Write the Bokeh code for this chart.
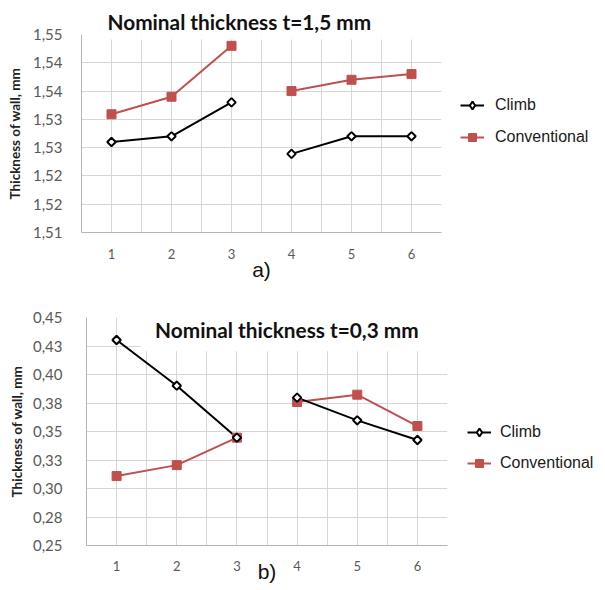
import numpy as np
from bokeh.plotting import figure
from bokeh.models import (Range1d, FixedTicker, Legend, LegendItem, Label, Spacer)
from bokeh.layouts import column, row
from bokeh.embed import file_html
from bokeh.resources import INLINE

# ---------------- data ----------------
steps = [1, 2, 3, 4, 5, 6]
segments = [(0, 3), (3, 6)]

climb_a = [1.5310, 1.5320, 1.5380, 1.5289, 1.5320, 1.5320]
conv_a = [1.5359, 1.5390, 1.5480, 1.5400, 1.5420, 1.5430]
yticks_a = [1.515, 1.520, 1.525, 1.530, 1.535, 1.540, 1.545, 1.550]
ylabels_a = ["1,51", "1,52", "1,52", "1,53", "1,53", "1,54", "1,54", "1,55"]

climb_b = [0.4303, 0.3902, 0.3446, 0.3797, 0.3598, 0.3425]
conv_b = [0.3109, 0.3205, 0.3446, 0.3759, 0.3823, 0.3548]
yticks_b = [0.250, 0.275, 0.300, 0.325, 0.350, 0.375, 0.400, 0.425, 0.450]
ylabels_b = ["0,25", "0,28", "0,30", "0,33", "0,35", "0,38", "0,40", "0,43", "0,45"]

series_names = ["Climb", "Conventional"]
titles = ["Nominal thickness t=1,5 mm", "Nominal thickness t=0,3 mm"]
sublabels = ["a)", "b)"]

RED = "#C0504D"
GRID = "#d6d6d6"
AXIS = "#b5b5b5"
TICKC = "#595959"
FONT = "Lato"


def style_climb(p, xs, ys):
    return p.scatter(xs, ys, marker="square", angle=np.pi / 4, size=6,
                     fill_color="white", line_color="black", line_width=2)


def style_conv(p, xs, ys):
    return p.scatter(xs, ys, marker="square", size=9, fill_color=RED,
                     line_color=RED, line_width=1)


def make_chart(climb, conv, yticks, ylabels, yr, frame_w, frame_h, borders,
               sub, x_tick_standoff, sub_standoff, y_tick_standoff,
               y_tick_size, ylab_standoff, boxes):
    bl, br, bt, bb = borders
    p = figure(frame_width=frame_w, frame_height=frame_h,
               min_border_left=bl, min_border_right=br,
               min_border_top=bt, min_border_bottom=bb,
               x_range=Range1d(0.5, 6.5), y_range=Range1d(*yr),
               output_backend="svg", toolbar_location=None)
    p.outline_line_color = None
    p.background_fill_color = "white"
    p.border_fill_color = "white"

    p.xgrid.ticker = FixedTicker(ticks=list(np.arange(0.5, 6.51, 0.5)))
    p.ygrid.ticker = FixedTicker(ticks=yticks)
    p.xgrid.grid_line_color = GRID
    p.ygrid.grid_line_color = GRID

    p.xaxis.ticker = FixedTicker(ticks=steps)
    p.yaxis.ticker = FixedTicker(ticks=yticks)
    p.yaxis.major_label_overrides = dict(zip(yticks, ylabels))
    for ax in (p.xaxis[0], p.yaxis[0]):
        ax.axis_line_color = AXIS
        ax.major_tick_line_color = None
        ax.minor_tick_line_color = None
        ax.major_label_text_color = TICKC
        ax.major_label_text_font = FONT
    p.xaxis.major_label_text_font_size = "13px"
    p.xaxis.major_label_standoff = x_tick_standoff
    p.xaxis.axis_label = sub
    p.xaxis.axis_label_text_font = "Liberation Sans"
    p.xaxis.axis_label_text_font_style = "normal"
    p.xaxis.axis_label_text_font_size = "21px"
    p.xaxis.axis_label_text_color = "#111111"
    p.xaxis.axis_label_standoff = sub_standoff
    p.yaxis.major_label_text_font_size = y_tick_size
    p.yaxis.major_label_standoff = y_tick_standoff
    p.yaxis.axis_label = "Thickness of wall, mm"
    p.yaxis.axis_label_text_font = FONT
    p.yaxis.axis_label_text_font_style = "bold"
    p.yaxis.axis_label_text_font_size = "13.5px"
    p.yaxis.axis_label_text_color = "#222222"
    p.yaxis.axis_label_standoff = ylab_standoff

    # white patches behind the title that hide the top of the grid
    for (l, r, t, b) in boxes:
        p.quad(left=[l], right=[r], top=[t], bottom=[b],
               fill_color="white", line_color=None)

    xs = np.array(steps, dtype=float)
    c1 = np.array(climb)
    c2 = np.array(conv)
    for (a, b) in segments:
        p.line(xs[a:b], c2[a:b], line_color=RED, line_width=2)
        p.line(xs[a:b], c1[a:b], line_color="black", line_width=2)
    style_conv(p, xs, c2)
    style_climb(p, xs, c1)
    return p


def make_legend_fig(width, height, spacing, standoff):
    f = figure(width=width, height=height, x_range=Range1d(0, 1),
               y_range=Range1d(0, 1), x_axis_location=None,
               y_axis_location=None, min_border=0,
               output_backend="svg", toolbar_location=None)
    f.grid.visible = False
    f.outline_line_color = None
    f.background_fill_color = "white"
    f.border_fill_color = "white"
    # off-range proxies: only their legend glyphs are seen
    lc = f.line([-3, -2], [-3, -2], line_color="black", line_width=2)
    sc = f.scatter([-3], [-3], marker="diamond", size=10, fill_color="white",
                   line_color="black", line_width=2)
    lr = f.line([-3, -2], [-3, -2], line_color=RED, line_width=2)
    sr = style_conv(f, [-3], [-3])
    legend = Legend(items=[
        LegendItem(label=series_names[0], renderers=[lc, sc]),
        LegendItem(label=series_names[1], renderers=[lr, sr]),
    ], location="top_left", orientation="vertical", padding=0, margin=0,
        spacing=spacing, glyph_width=24, glyph_height=20,
        label_height=20, label_standoff=standoff,
        label_text_font="Liberation Sans", label_text_font_size="16px",
        label_text_color="#1a1a1a", border_line_color=None,
        background_fill_alpha=0)
    f.add_layout(legend)
    return f


# top chart: frame 360 x 198 at page x=81
p1 = make_chart(climb_a, conv_a, yticks_a, ylabels_a, (1.515, 1.550),
                360, 198, (70, 19, 34, 55), sublabels[0], 10, -4, 13, "15px",
                7, [(0.68, 6.6, 1.553, 1.5491)])
p1.title.text = titles[0]
p1.title.align = "left"
p1.title.offset = 26
p1.title.standoff = 2
p1.title.text_font = FONT
p1.title.text_font_style = "bold"
p1.title.text_font_size = "20.8px"
p1.title.text_color = "#111111"
right1 = column(Spacer(width=137, height=95), make_legend_fig(137, 192, 12, 11),
                spacing=0)
row1 = row(Spacer(width=3, height=287), p1, right1, spacing=0)

# bottom chart: frame 361 x 228 at page x=86
p2 = make_chart(climb_b, conv_b, yticks_b, ylabels_b, (0.25, 0.45),
                361, 228, (73, 20, 30, 36), sublabels[1], 9, -14, 18, "15px",
                5, [(1.02, 6.6, 0.46, 0.4262), (1.40, 6.6, 0.46, 0.4205)])
p2.add_layout(Label(x=3.83, y=0.4397, text=titles[1],
                    text_font=FONT, text_font_style="bold",
                    text_font_size="20.8px", text_color="#111111",
                    text_align="center", text_baseline="middle"))
right2 = column(Spacer(width=130, height=135), make_legend_fig(130, 159, 11, 9),
                spacing=0)
row2 = row(Spacer(width=5, height=294), p2, right2, spacing=0)

layout = column(row1, row2, spacing=0)
open("out.html", "w").write(file_html(layout, INLINE))
